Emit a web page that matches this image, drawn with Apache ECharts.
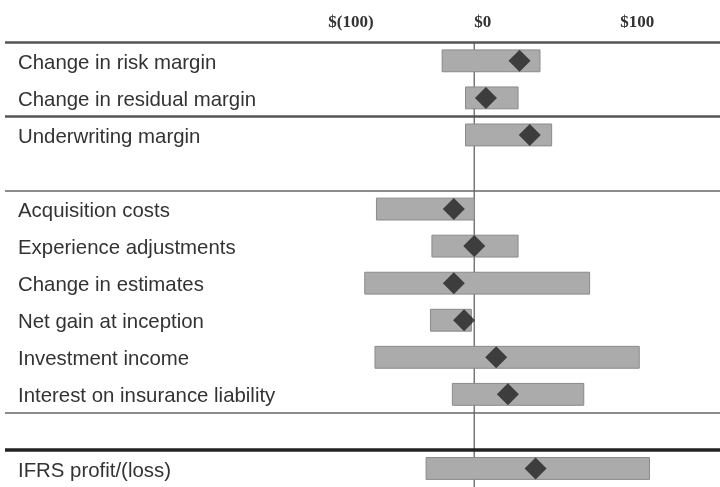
<!DOCTYPE html>
<html>
<head>
<meta charset="utf-8">
<script src="https://cdn.jsdelivr.net/npm/echarts@6/dist/echarts.min.js"></script>
<style>
  html, body { margin: 0; padding: 0; background: #fff; }
  #chart { width: 720px; height: 487px; }
</style>
</head>
<body>
<div id="chart"></div>
<script>
// Row labels (blank strings are spacer rows)
const categories = [
  'Change in risk margin',
  'Change in residual margin',
  'Underwriting margin',
  '',
  'Acquisition costs',
  'Experience adjustments',
  'Change in estimates',
  'Net gain at inception',
  'Investment income',
  'Interest on insurance liability',
  '',
  'IFRS profit/(loss)'
];
// Range of each item ($)
const lowValues  = [-22, -6, -6, null, -67, -29, -75, -30, -68, -15, null, -33];
const highValues = [ 45, 30, 53, null,   0,  30,  79,  -2, 113,  75, null, 120];
// Central estimate ($)
const midValues  = [ 31,  8, 38, null, -14,   0, -14,  -7,  15,  23, null,  42];
// Axis tick values shown along the top
const tickValues = [-100, 0, 100];
// Row boundaries where separator rules are drawn
const ruleRows   = [0, 2, 4, 10, 11];

const rangeData = [];
const pointData = [];
categories.forEach((c, i) => {
  if (lowValues[i] != null) rangeData.push([lowValues[i], highValues[i], i]);
  if (midValues[i] != null) pointData.push([midValues[i], i]);
});

const ruleStyles = {
  0:  { color: '#555', width: 2.5 },
  2:  { color: '#555', width: 2.5 },
  4:  { color: '#666', width: 1.5 },
  10: { color: '#666', width: 1.5 },
  11: { color: '#222', width: 3.5 }
};

const chart = echarts.init(document.getElementById('chart'));
chart.setOption({
  animation: false,
  grid: { left: 5, right: 0, top: 42.3, height: 447.3, containLabel: false },
  xAxis: {
    type: 'value',
    position: 'top',
    min: -321.4,
    max: 168.3,
    axisLine: { show: false },
    axisTick: { show: false },
    splitLine: { show: false },
    axisLabel: {
      customValues: tickValues,
      margin: 11,
      align: 'left',
      fontFamily: 'Liberation Serif',
      fontWeight: 'bold',
      fontSize: 17,
      color: '#333',
      formatter: v => v < 0 ? '$(' + (-v) + ')' : '$' + v
    }
  },
  yAxis: [
    {
      type: 'category',
      data: categories,
      inverse: true,
      axisLine: { show: false },
      axisTick: { show: false },
      splitLine: { show: false },
      axisLabel: {
        inside: true,
        margin: 13,
        align: 'left',
        formatter: v => v ? '{row|' + v + '}' : '',
        rich: {
          row: {
            padding: [5, 0, 0, 0],
            fontFamily: 'Liberation Sans',
            fontSize: 20.4,
            color: '#333'
          }
        }
      }
    },
    {
      type: 'value',
      min: 0,
      max: 12,
      inverse: true,
      show: false
    }
  ],
  series: [
    {
      // zero line running the full height, behind the bars
      type: 'line',
      xAxisIndex: 0,
      yAxisIndex: 1,
      data: [[0, 0], [0, 12]],
      showSymbol: false,
      lineStyle: { color: '#777', width: 1.5 },
      silent: true,
      z: 1,
      // separator rules between row groups
      markLine: {
        silent: true,
        symbol: 'none',
        label: { show: false },
        data: ruleRows.map(r => ({ yAxis: r, lineStyle: { type: 'solid', color: ruleStyles[r].color, width: ruleStyles[r].width } }))
      }
    },
    {
      type: 'custom',
      xAxisIndex: 0,
      yAxisIndex: 0,
      z: 6,
      data: rangeData,
      encode: { x: [0, 1], y: 2 },
      renderItem: (params, api) => {
        const lo = api.coord([api.value(0), api.value(2)]);
        const hi = api.coord([api.value(1), api.value(2)]);
        const h = api.size([0, 1])[1] * 0.59;
        return {
          type: 'rect',
          shape: { x: lo[0], y: lo[1] - h / 2, width: hi[0] - lo[0], height: h },
          style: { fill: '#ababab', stroke: '#8a8a8a', lineWidth: 1 }
        };
      }
    },
    {
      type: 'scatter',
      xAxisIndex: 0,
      yAxisIndex: 0,
      z: 7,
      symbol: 'diamond',
      symbolSize: [22, 22],
      itemStyle: { color: '#222' },
      data: pointData
    }
  ]
});
</script>
</body>
</html>
